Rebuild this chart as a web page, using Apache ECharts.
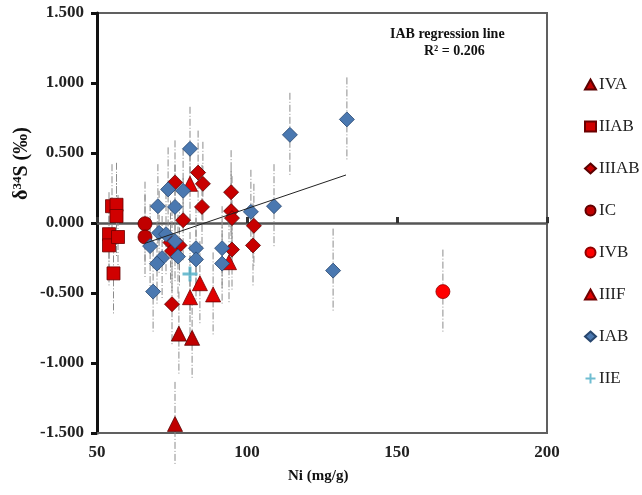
<!DOCTYPE html>
<html>
<head>
<meta charset="utf-8">
<script src="https://cdn.jsdelivr.net/npm/echarts@6/dist/echarts.min.js"></script>
<style>
  html, body { margin: 0; padding: 0; background: #fff; }
  #chart { width: 642px; height: 495px; }
</style>
</head>
<body>
<div id="chart"></div>
<script>
// points are [Ni, d34S, error]
var IVA = [[76, -1.435, 0.3], [77.3, -0.79, 0.3], [81.7, -0.82, 0.3]];
var IIAB = [[55, 0.12, 0.3], [56.5, 0.13, 0.3], [56.5, 0.05, 0.3], [54, -0.08, 0.3], [54, -0.16, 0.3], [57, -0.1, 0.3], [55.5, -0.36, 0.3]];
var IIIAB = [[76, 0.29, 0.3], [83.7, 0.36, 0.3], [85.3, 0.28, 0.3], [85, 0.115, 0.3], [78.7, 0.02, 0.3],
    [94.7, 0.22, 0.3], [94.7, 0.085, 0.3], [95, 0.035, 0.3], [102.3, -0.02, 0.3], [102, -0.16, 0.3],
    [95, -0.19, 0.3], [75, -0.58, 0.3], [74.5, -0.14, 0.3], [77.5, -0.16, 0.3], [75, -0.2, 0.3]];
var IC = [[66, -0.005, 0.3], [66, -0.1, 0.3]];
var IVB = [[165.3, -0.49, 0.3]];
var IIIF = [[81, 0.28, 0.3], [81, -0.53, 0.3], [84.3, -0.43, 0.3], [88.7, -0.51, 0.3], [94, -0.28, 0.3]];
var IAB = [[133.3, 0.74, 0.3], [114.3, 0.63, 0.3], [81, 0.53, 0.3], [109, 0.12, 0.3], [101.3, 0.08, 0.3],
    [128.7, -0.34, 0.3], [73.7, 0.24, 0.3], [78.7, 0.23, 0.3], [70.3, 0.12, 0.3], [76, 0.115, 0.3],
    [70.7, -0.07, 0.3], [73, -0.08, 0.3], [67.7, -0.165, 0.3], [71.7, -0.25, 0.3], [70, -0.29, 0.3],
    [76, -0.13, 0.3], [77, -0.24, 0.3], [68.7, -0.49, 0.3], [83, -0.18, 0.3], [83, -0.26, 0.3],
    [91.7, -0.18, 0.3], [91.7, -0.29, 0.3]];
var IIE = [[81, -0.365, 0.3]];
// IAB regression line end points
var regLine = [[66, -0.145], [133, 0.343]];

var xTicks = [50, 100, 150, 200];
var yTicks = [-1.5, -1, -0.5, 0, 0.5, 1, 1.5];

var serif = 'Liberation Serif, Times New Roman, serif';
var allPts = [].concat(IVA, IIAB, IIIAB, IC, IVB, IIIF, IAB, IIE);

function errBar(params, api) {
    var x = api.value(0), y = api.value(1), e = api.value(2);
    var top = api.coord([x, y + e]);
    var bot = api.coord([x, y - e]);
    return {
        type: 'line',
        shape: { x1: top[0], y1: top[1], x2: bot[0], y2: bot[1] },
        style: { stroke: '#8c8c8c', lineWidth: 1, lineDash: [7, 2, 1, 2] }
    };
}

function pts(name, data, symbol, size, fill, edge) {
    return {
        name: name,
        type: 'scatter',
        data: data,
        symbol: symbol,
        symbolSize: size,
        z: 3,
        itemStyle: { color: fill, borderColor: edge, borderWidth: 0.8, opacity: 1 }
    };
}

var myChart = echarts.init(document.getElementById('chart'));
var option = {
    backgroundColor: '#fff',
    animation: false,
    grid: { left: 97, right: 95, top: 13, bottom: 62, show: true, borderColor: '#606060', borderWidth: 2 },
    legend: {
        orient: 'vertical',
        left: 579,
        top: 71,
        itemWidth: 11,
        itemHeight: 10,
        itemGap: 25,
        textStyle: { fontFamily: serif, fontSize: 17, color: '#222', padding: [0, 0, 0, -2] },
        data: ['IVA', 'IIAB', 'IIIAB', 'IC', 'IVB', 'IIIF', 'IAB', 'IIE']
    },
    xAxis: [
        {
            type: 'value', min: xTicks[0], max: xTicks[xTicks.length - 1], interval: 50,
            axisLine: { onZero: false, lineStyle: { color: '#606060', width: 2 } },
            axisTick: { show: false },
            splitLine: { show: false },
            axisLabel: { margin: 11, fontFamily: serif, fontSize: 17, fontWeight: 'bold', color: '#222' }
        },
        {
            type: 'value', min: xTicks[0], max: xTicks[xTicks.length - 1], interval: 50,
            position: 'bottom',
            axisLine: { onZero: true, lineStyle: { color: '#555', width: 2.5 } },
            axisTick: { show: true, length: 6, inside: true, lineStyle: { color: '#333', width: 3 } },
            splitLine: { show: false },
            axisLabel: { show: false }
        }
    ],
    yAxis: {
        type: 'value', min: yTicks[0], max: yTicks[yTicks.length - 1], interval: 0.5,
        axisLine: { lineStyle: { color: '#111', width: 3 } },
        axisTick: { length: 6, lineStyle: { color: '#111', width: 3 } },
        splitLine: { show: false },
        axisLabel: {
            margin: 13, fontFamily: serif, fontSize: 17, fontWeight: 'bold', color: '#222',
            formatter: function (v) { return v.toFixed(3); }
        }
    },
    graphic: [
        {
            type: 'text', left: 390, top: 27,
            style: { text: 'IAB regression line', font: 'bold 14px ' + serif, fill: '#111' }
        },
        {
            type: 'text', left: 424, top: 44,
            style: { text: 'R² = 0.206', font: 'bold 14px ' + serif, fill: '#111' }
        },
        {
            type: 'text', x: 11, y: 200, rotation: Math.PI / 2,
            style: {
                text: '{a|δ}{s|34}{a|S (‰)}',
                rich: {
                    a: { font: 'bold 20px ' + serif, fill: '#111' },
                    s: { font: 'bold 13px ' + serif, fill: '#111', verticalAlign: 'top', padding: [0, 0, 9, 0] }
                }
            }
        },
        {
            type: 'text', left: 288, top: 469,
            style: { text: 'Ni (mg/g)', font: 'bold 15px ' + serif, fill: '#111' }
        }
    ],
    series: [
        {
            name: 'err', type: 'custom', renderItem: errBar, data: allPts, z: 1, silent: true,
            encode: { x: 0, y: 1 }
        },
        {
            name: 'reg', type: 'line', data: regLine, symbol: 'none', z: 4, silent: true,
            lineStyle: { color: '#222', width: 1 }
        },
        pts('IVA', IVA, 'triangle', 15, '#C00000', '#5a0000'),
        pts('IIAB', IIAB, 'rect', 13, '#D00000', '#6a0000'),
        pts('IIIAB', IIIAB, 'diamond', 15, '#C80000', '#5a0000'),
        pts('IC', IC, 'circle', 14, '#C00000', '#600000'),
        pts('IVB', IVB, 'circle', 14, '#FF0000', '#900000'),
        pts('IIIF', IIIF, 'triangle', 15, '#E00000', '#700000'),
        pts('IAB', IAB, 'diamond', 15, '#4A78B0', '#27466e'),
        {
            name: 'IIE', type: 'scatter', data: IIE, symbol: 'path://M4,0H6V4H10V6H6V10H4V6H0V4H4Z',
            symbolSize: 15, z: 5, itemStyle: { color: '#4BACC6' }
        }
    ]
};
myChart.setOption(option);
</script>
</body>
</html>
